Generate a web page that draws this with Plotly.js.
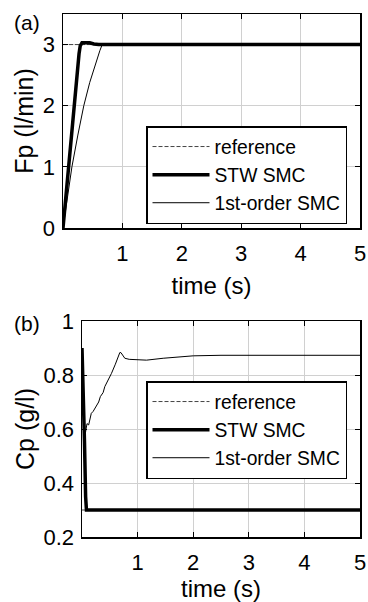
<!DOCTYPE html>
<html>
<head>
<meta charset="utf-8">
<script src="https://cdn.plot.ly/plotly-3.0.1.min.js"></script>
<style>html,body{margin:0;padding:0;background:#fff;}#chart{width:368px;height:602px;}</style>
</head>
<body>
<div id="chart"></div>
<script>
// ---- data ----
const seriesNames = ['reference', 'STW SMC', '1st-order SMC'];

// Panel (a): Fp (l/min)
const fpRefT = [0, 5];
const fpRefY = [3, 3];
const fpStwT = [0, 0.05, 0.096, 0.14, 0.18, 0.23, 0.27, 0.29, 0.32, 0.38, 0.45, 0.52, 0.6, 5];
const fpStwY = [0, 0.55, 1.0, 1.5, 2.0, 2.45, 2.85, 2.98, 3.03, 3.03, 3.03, 3.01, 3.0, 3.0];
const fp1stT = [0, 0.08, 0.15, 0.25, 0.35, 0.45, 0.55, 0.62, 0.66, 0.7, 5];
const fp1stY = [0, 0.5, 1.0, 1.52, 2.0, 2.38, 2.7, 2.9, 3.0, 3.0, 3.0];

// Panel (b): Cp (g/l)
const cpRefT = [0, 5];
const cpRefY = [0.3, 0.3];
const cpStwT = [0, 0.015, 0.045, 0.065, 0.08, 0.1, 5];
const cpStwY = [0.9, 0.8, 0.55, 0.35, 0.3, 0.3, 0.3];
const cp1stT = [0, 0.015, 0.04, 0.06, 0.09, 0.12, 0.167, 0.2, 0.22, 0.26, 0.3, 0.33, 0.35, 0.38, 0.41, 0.47, 0.53, 0.6, 0.68, 0.7, 0.77, 0.85, 0.98, 1.16, 1.46, 2.0, 2.5, 3.0, 5.0];
const cp1stY = [0.9, 0.8, 0.6, 0.584, 0.62, 0.615, 0.658, 0.665, 0.672, 0.689, 0.70, 0.72, 0.726, 0.735, 0.757, 0.78, 0.806, 0.84, 0.883, 0.883, 0.862, 0.858, 0.856, 0.855, 0.862, 0.871, 0.873, 0.873, 0.873];

const xTicks = [1, 2, 3, 4, 5];
const fpTicks = [0, 1, 2, 3];
const cpTicks = [0.2, 0.4, 0.6, 0.8, 1];
const cpTickText = ['0.2', '0.4', '0.6', '0.8', '1'];

// ---- styling ----
const FONT = 'Liberation Sans, Arial, Helvetica, sans-serif';
const W = 368, H = 602;
const refLine = {color: '#444', width: 1, dash: '4px,2px'};
const stwLine = {color: '#000', width: 3.5};
const firstLine = {color: '#000', width: 1};

const traces = [
  {x: fpRefT, y: fpRefY, name: seriesNames[0], mode: 'lines', line: refLine, xaxis: 'x', yaxis: 'y', legend: 'legend', legendrank: 1},
  {x: fp1stT, y: fp1stY, name: seriesNames[2], mode: 'lines', line: firstLine, xaxis: 'x', yaxis: 'y', legend: 'legend', legendrank: 3},
  {x: fpStwT, y: fpStwY, name: seriesNames[1], mode: 'lines', line: stwLine, xaxis: 'x', yaxis: 'y', legend: 'legend', legendrank: 2},
  {x: cpRefT, y: cpRefY, name: seriesNames[0], mode: 'lines', line: refLine, xaxis: 'x2', yaxis: 'y2', legend: 'legend2', legendrank: 1},
  {x: cp1stT, y: cp1stY, name: seriesNames[2], mode: 'lines', line: firstLine, xaxis: 'x2', yaxis: 'y2', legend: 'legend2', legendrank: 3},
  {x: cpStwT, y: cpStwY, name: seriesNames[1], mode: 'lines', line: stwLine, xaxis: 'x2', yaxis: 'y2', legend: 'legend2', legendrank: 2}
];

function xAxis(domain, anchor) {
  return {
    domain: domain, anchor: anchor, range: [0, 5], tickvals: xTicks,
    showline: true, linecolor: '#000', linewidth: 1.5, mirror: 'ticks',
    ticks: 'inside', ticklen: 5, tickwidth: 1, tickcolor: '#000',
    showgrid: true, gridcolor: '#d0d0d0', gridwidth: 1, zeroline: false,
    tickfont: {family: FONT, size: 22, color: '#000'}, ticklabelstandoff: 5,
    title: {text: 'time (s)', font: {family: FONT, size: 24, color: '#000'}, standoff: 12}
  };
}
function yAxis(domain, anchor, range, tv, tt, title) {
  const a = {
    domain: domain, anchor: anchor, range: range, tickvals: tv,
    showline: true, linecolor: '#000', linewidth: 1.5, mirror: 'ticks',
    ticks: 'inside', ticklen: 5, tickwidth: 1, tickcolor: '#000',
    showgrid: true, gridcolor: '#d0d0d0', gridwidth: 1, zeroline: false,
    tickfont: {family: FONT, size: 22, color: '#000'}, ticklabelstandoff: 2,
    title: {text: title, font: {family: FONT, size: 25, color: '#000'}, standoff: 2}
  };
  if (tt) a.ticktext = tt;
  return a;
}

const legendStyle = (yTop) => ({
  x: 146 / W, y: 1 - yTop / H, xanchor: 'left', yanchor: 'top',
  bgcolor: '#fff', bordercolor: '#000', borderwidth: 1.5,
  font: {family: FONT, size: 19.3, color: '#000'}, itemwidth: 57, tracegroupgap: 0,
  traceorder: 'normal'
});

const layout = {
  width: W, height: H,
  margin: {l: 0, r: 0, t: 0, b: 0},
  paper_bgcolor: '#fff', plot_bgcolor: '#fff',
  font: {family: FONT, color: '#000'},
  showlegend: true,
  xaxis: xAxis([63 / W, 360 / W], 'y'),
  yaxis: yAxis([1 - 228 / H, 1 - 14 / H], 'x', [0, 3.5], fpTicks, null, 'Fp (l/min)'),
  xaxis2: xAxis([82 / W, 360 / W], 'y2'),
  yaxis2: yAxis([1 - 537 / H, 1 - 321 / H], 'x2', [0.2, 1], cpTicks, cpTickText, 'Cp (g/l)'),
  legend: legendStyle(126),
  legend2: legendStyle(381),
  annotations: [
    {text: '(a)', xref: 'paper', yref: 'paper', x: 27 / W, y: 1 - 23 / H, xanchor: 'center', yanchor: 'middle', showarrow: false, font: {family: FONT, size: 21, color: '#000'}},
    {text: '(b)', xref: 'paper', yref: 'paper', x: 27 / W, y: 1 - 323 / H, xanchor: 'center', yanchor: 'middle', showarrow: false, font: {family: FONT, size: 21, color: '#000'}}
  ]
};

Plotly.newPlot('chart', traces, layout, {staticPlot: true, displayModeBar: false});
</script>
</body>
</html>
